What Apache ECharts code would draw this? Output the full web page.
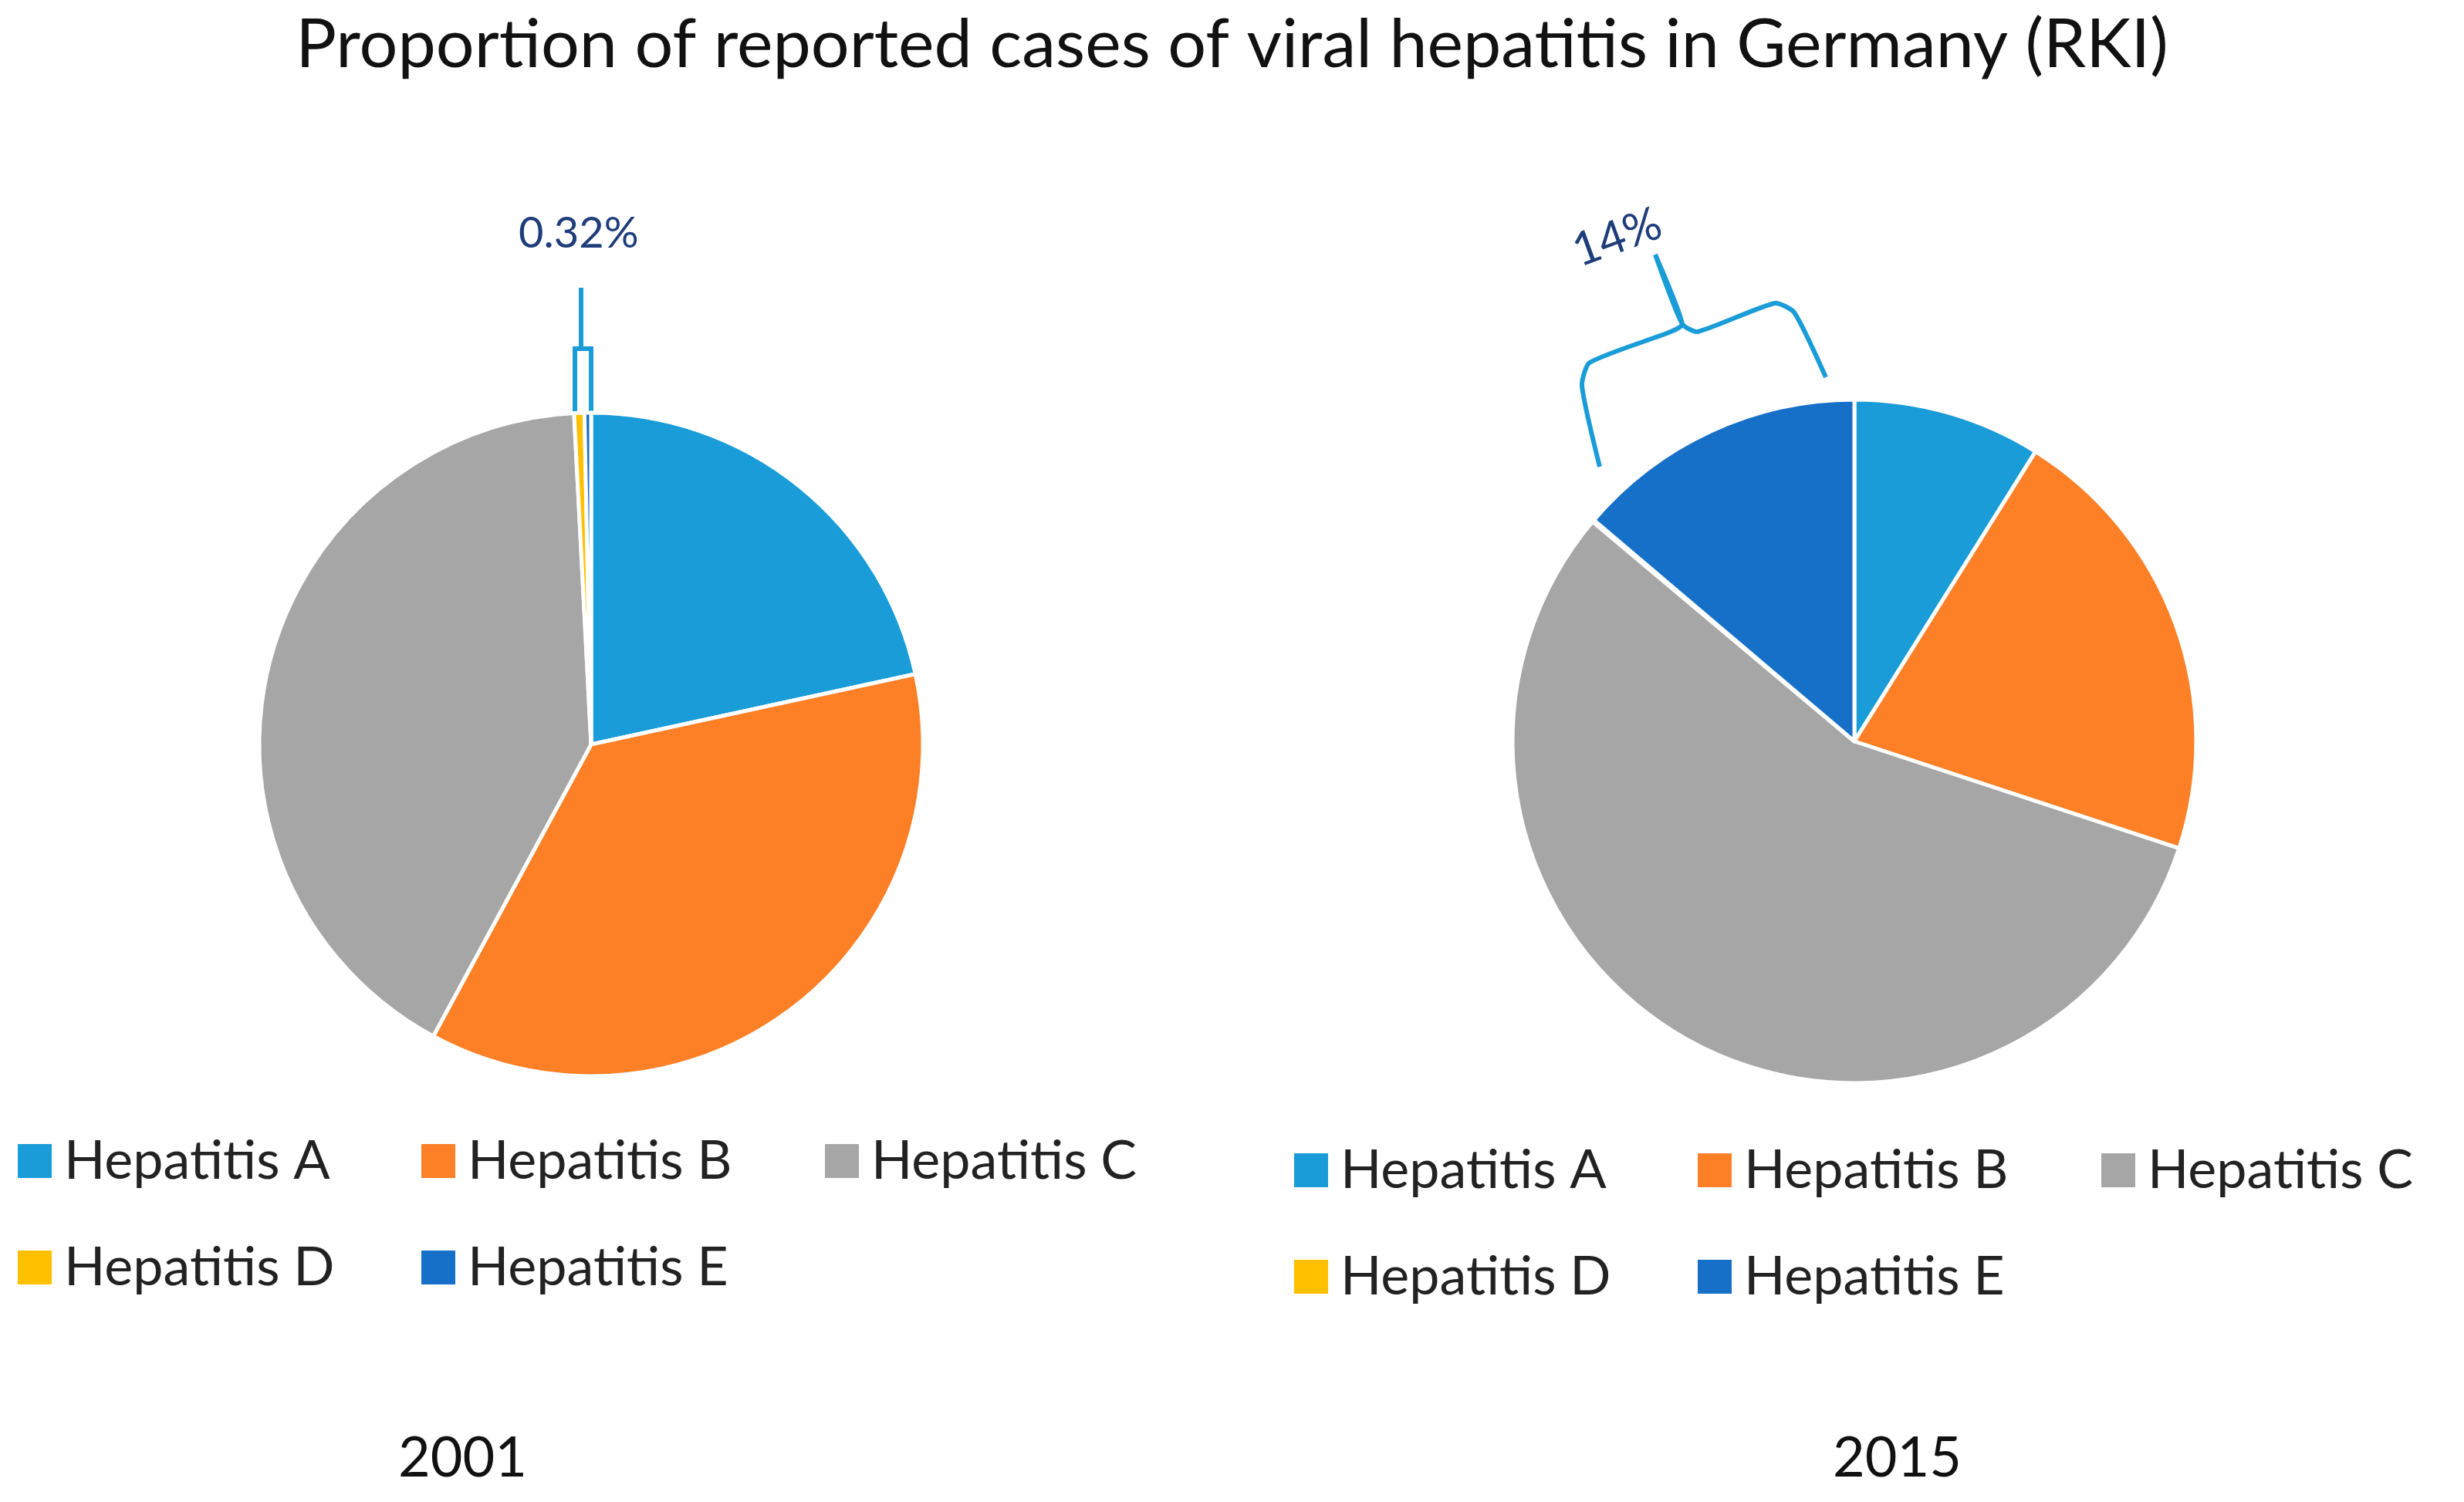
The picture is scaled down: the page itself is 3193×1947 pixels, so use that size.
<!DOCTYPE html>
<html lang="en">
<head>
    <meta charset="UTF-8">
    <title>Viral hepatitis Germany</title>
    <script src="https://cdn.jsdelivr.net/npm/echarts@6/dist/echarts.min.js"></script>
    <style>
        html, body { margin: 0; padding: 0; background: #fff; }
        #main { width: 3193px; height: 1947px; }
    </style>
</head>
<body>
<div id="main"></div>
<script>
    // data (percent)
    const categories = ['Hepatitis A', 'Hepatitis B', 'Hepatitis C', 'Hepatitis D', 'Hepatitis E'];
    const values2001 = [21.6, 36.3, 41.3, 0.5, 0.32];
    const values2015 = [8.9, 21.2, 56.1, 0.1, 13.8];
    const years = ['2001', '2015'];
    const colors = ['#1a9cd8', '#fd7f26', '#a6a6a6', '#ffc000', '#1670c8'];

    const font = 'Lato, "Open Sans", sans-serif';
    let myChart = echarts.init(document.getElementById('main'));

    // legend positions: three items in row one, two in row two, for each pie
    let legends = [];
    const legendOrigin = [[16, 1465], [1670, 1477]];
    legendOrigin.forEach(function (o) {
        categories.forEach(function (name, i) {
            legends.push({
                data: [name],
                left: o[0] + (i % 3) * 523,
                top: o[1] + Math.floor(i / 3) * 138,
                icon: 'rect',
                itemWidth: 46,
                itemHeight: 46,
                selectedMode: false,
                textStyle: { fontSize: 70, color: '#222', fontFamily: font, padding: [0, 0, 0, 10] }
            });
        });
    });

    function pie(values, center, radius) {
        return {
            type: 'pie',
            center: center,
            radius: radius,
            startAngle: 90,
            clockwise: true,
            label: { show: false },
            labelLine: { show: false },
            emphasis: { disabled: true },
            itemStyle: { borderColor: '#fff', borderWidth: 5 },
            data: categories.map(function (c, i) { return { name: c, value: values[i] }; })
        };
    }

    let option = {
        color: colors,
        title: {
            text: 'Proportion of reported cases of viral hepatitis in Germany (RKI)',
            left: 'center',
            top: 10,
            textStyle: { fontSize: 88, fontWeight: 'normal', color: '#111', fontFamily: font }
        },
        legend: legends,
        series: [
            pie(values2001, [766, 965], 430),
            pie(values2015, [2403, 961], 443)
        ],
        graphic: [
            { type: 'text', left: 611 - 95, top: 1855, style: { text: years[0], fontSize: 72, fill: '#111', fontFamily: font } },
            { type: 'text', left: 2470 - 95, top: 1855, style: { text: years[1], fontSize: 72, fill: '#111', fontFamily: font } },
            { type: 'text', x: 672, y: 275, style: { text: '0.32%', fontSize: 56, fill: '#1f3d7a', fontFamily: font } },
            { type: 'text', x: 2030, y: 300, rotation: 0.35, style: { text: '14%', fontSize: 60, fill: '#1f3d7a', fontFamily: font } },
            {
                type: 'polyline',
                shape: { points: [[753, 373], [753, 452], [745, 452], [745, 533]] },
                style: { stroke: '#1a9cd8', lineWidth: 6, fill: null }
            },
            {
                type: 'polyline',
                shape: { points: [[753, 452], [766, 452], [766, 533]] },
                style: { stroke: '#1a9cd8', lineWidth: 6, fill: null }
            },
            {
                type: 'polyline',
                shape: {
                    points: [[2073, 605], [2050, 500], [2060, 470], [2165, 430], [2180, 420], [2145, 330],
                             [2180, 420], [2200, 430], [2300, 393], [2325, 405], [2366, 489]],
                    smooth: 0.2
                },
                style: { stroke: '#1a9cd8', lineWidth: 6, fill: null }
            }
        ]
    };
    myChart.setOption(option);
</script>
</body>
</html>
